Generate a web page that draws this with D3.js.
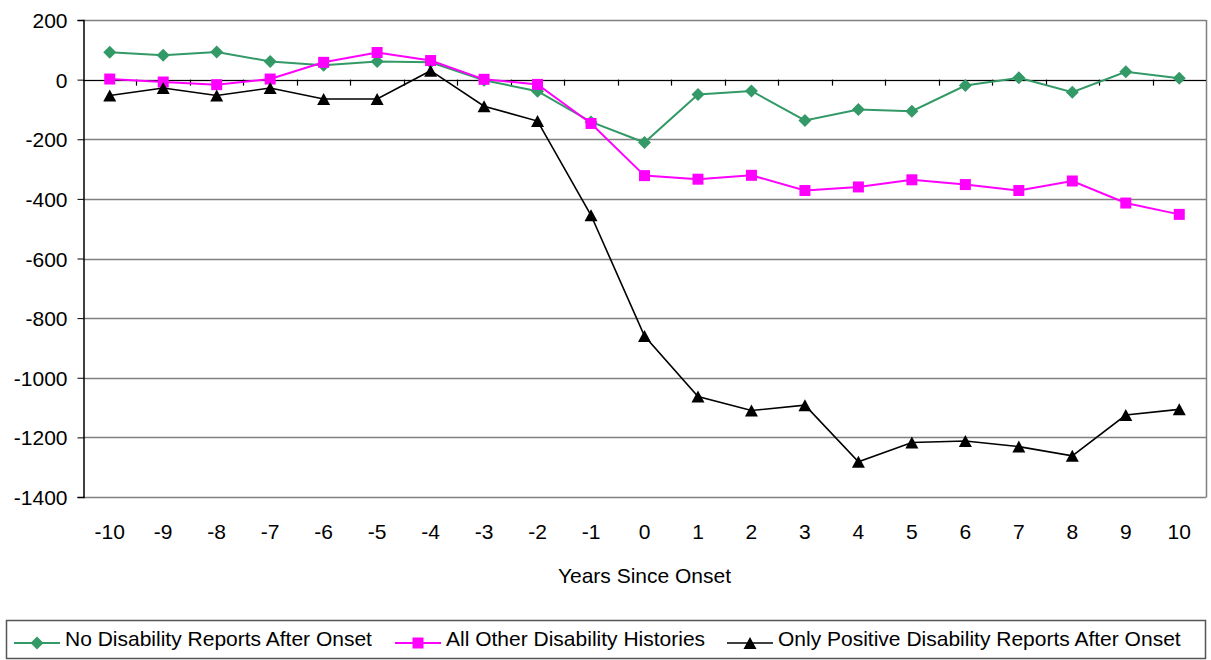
<!DOCTYPE html>
<html>
<head>
<meta charset="utf-8">
<script src="https://cdn.jsdelivr.net/npm/d3@7"></script>
<style>
  body { margin: 0; background: #fff; }
  text { font-family: "Liberation Sans", Arial, sans-serif; fill: #000; }
</style>
</head>
<body>
<div id="chart"></div>
<script>
// years since onset (categories)
const years = ["-10", "-9", "-8", "-7", "-6", "-5", "-4", "-3", "-2", "-1", "0",
               "1", "2", "3", "4", "5", "6", "7", "8", "9", "10"];

// series values
const noReports = [92, 82, 93, 61, 48, 61, 58, -2, -39, -142, -211,
                   -50, -38, -137, -100, -106, -20, 6, -42, 26, 5];
const allOther = [2, -8, -17, 2, 58, 91, 64, 1, -16, -147, -322,
                  -334, -321, -372, -360, -336, -352, -372, -340, -414, -452];
const onlyPositive = [-53, -28, -53, -28, -65, -65, 30, -89, -139, -455, -860,
                      -1063, -1110, -1092, -1282, -1217, -1212, -1231, -1262, -1125, -1106];

const yTicks = [200, 0, -200, -400, -600, -800, -1000, -1200, -1400];

const seriesNames = ["No Disability Reports After Onset",
                     "All Other Disability Histories",
                     "Only Positive Disability Reports After Onset"];

const width = 1211, height = 660;
const plot = {left: 83, right: 1206, top: 20, bottom: 497};

const svg = d3.select("#chart").append("svg")
    .attr("width", width)
    .attr("height", height);

// scales
const x = d3.scaleBand()
    .domain(years)
    .range([plot.left, plot.right])
    .padding(0);

const y = d3.scaleLinear()
    .domain([-1400, 200])
    .range([plot.bottom, plot.top]);

const cx = d => x(d) + x.bandwidth() / 2;

// gridlines
svg.append("g")
    .selectAll("line")
    .data(yTicks)
    .enter().append("line")
    .attr("x1", plot.left)
    .attr("x2", plot.right)
    .attr("y1", d => Math.round(y(d)) + 0.5)
    .attr("y2", d => Math.round(y(d)) + 0.5)
    .attr("stroke", "#808080")
    .attr("stroke-width", 1.5);

// plot border on the right
svg.append("line")
    .attr("x1", plot.right + 0.5).attr("x2", plot.right + 0.5)
    .attr("y1", plot.top).attr("y2", plot.bottom + 0.5)
    .attr("stroke", "#808080")
    .attr("stroke-width", 1.5);

// y axis (plain hyphen minus, no thousands separator)
const yAxis = d3.axisLeft(y)
    .tickValues(yTicks)
    .tickFormat(d => String(d))
    .tickSize(6)
    .tickPadding(10);

const gy = svg.append("g")
    .attr("transform", `translate(${plot.left + 0.5},0)`)
    .call(yAxis);
gy.select(".domain").attr("stroke", "#000").attr("stroke-width", 1.5);
gy.selectAll(".tick line").attr("stroke", "#000");
gy.selectAll(".tick text")
    .style("font-size", "21px")
    .attr("dy", "0.36em");

// x axis drawn along zero, with ticks between categories
svg.append("line")
    .attr("x1", plot.left).attr("x2", plot.right)
    .attr("y1", Math.round(y(0)) + 0.5).attr("y2", Math.round(y(0)) + 0.5)
    .attr("stroke", "#000")
    .attr("stroke-width", 1.2);

svg.append("g")
    .selectAll("line")
    .data(years.slice(1))
    .enter().append("line")
    .attr("x1", d => Math.round(x(d)) + 0.5)
    .attr("x2", d => Math.round(x(d)) + 0.5)
    .attr("y1", y(0))
    .attr("y2", y(0) + 6)
    .attr("stroke", "#000")
    .attr("stroke-width", 1.2);

// category labels below the plot
svg.append("g")
    .selectAll("text")
    .data(years)
    .enter().append("text")
    .attr("x", d => cx(d))
    .attr("y", 539)
    .attr("text-anchor", "middle")
    .style("font-size", "21px")
    .text(d => d);

// axis title
svg.append("text")
    .attr("x", (plot.left + plot.right) / 2)
    .attr("y", 583)
    .attr("text-anchor", "middle")
    .style("font-size", "21px")
    .text("Years Since Onset");

// markers
const diamond = s => `M0,${-s}L${s},0L0,${s}L${-s},0Z`;
const square = s => `M${-s},${-s}H${s}V${s}H${-s}Z`;
const triangle = s => `M0,${-s}L${s + 0.5},${s}H${-s - 0.5}Z`;

const series = [
    {name: seriesNames[0], values: noReports, color: "#339966", width: 2, marker: diamond(6.5)},
    {name: seriesNames[1], values: allOther, color: "#FF00FF", width: 2, marker: square(5.5)},
    {name: seriesNames[2], values: onlyPositive, color: "#000000", width: 1.6, marker: triangle(6)}
];

const line = d3.line()
    .x((d, i) => cx(years[i]))
    .y(d => y(d));

series.forEach(s => {
    svg.append("path")
        .datum(s.values)
        .attr("d", line)
        .attr("fill", "none")
        .attr("stroke", s.color)
        .attr("stroke-width", s.width);

    svg.append("g")
        .selectAll("path")
        .data(s.values)
        .enter().append("path")
        .attr("transform", (d, i) => `translate(${cx(years[i])},${y(d)})`)
        .attr("d", s.marker)
        .attr("fill", s.color);
});

// legend
const legend = svg.append("g");
legend.append("rect")
    .attr("x", 6.5)
    .attr("y", 620.5)
    .attr("width", 1199)
    .attr("height", 38)
    .attr("fill", "none")
    .attr("stroke", "#555")
    .attr("stroke-width", 1.5);

const legendX = [14, 395, 727];
series.forEach((s, i) => {
    const g = legend.append("g")
        .attr("transform", `translate(${legendX[i]},643)`);
    g.append("line")
        .attr("x1", 0).attr("x2", 46)
        .attr("y1", 0).attr("y2", 0)
        .attr("stroke", s.color)
        .attr("stroke-width", s.width);
    g.append("path")
        .attr("transform", "translate(23,0)")
        .attr("d", s.marker)
        .attr("fill", s.color);
    g.append("text")
        .attr("x", 51)
        .attr("y", 3)
        .style("font-size", "21px")
        .text(s.name);
});
</script>
</body>
</html>
